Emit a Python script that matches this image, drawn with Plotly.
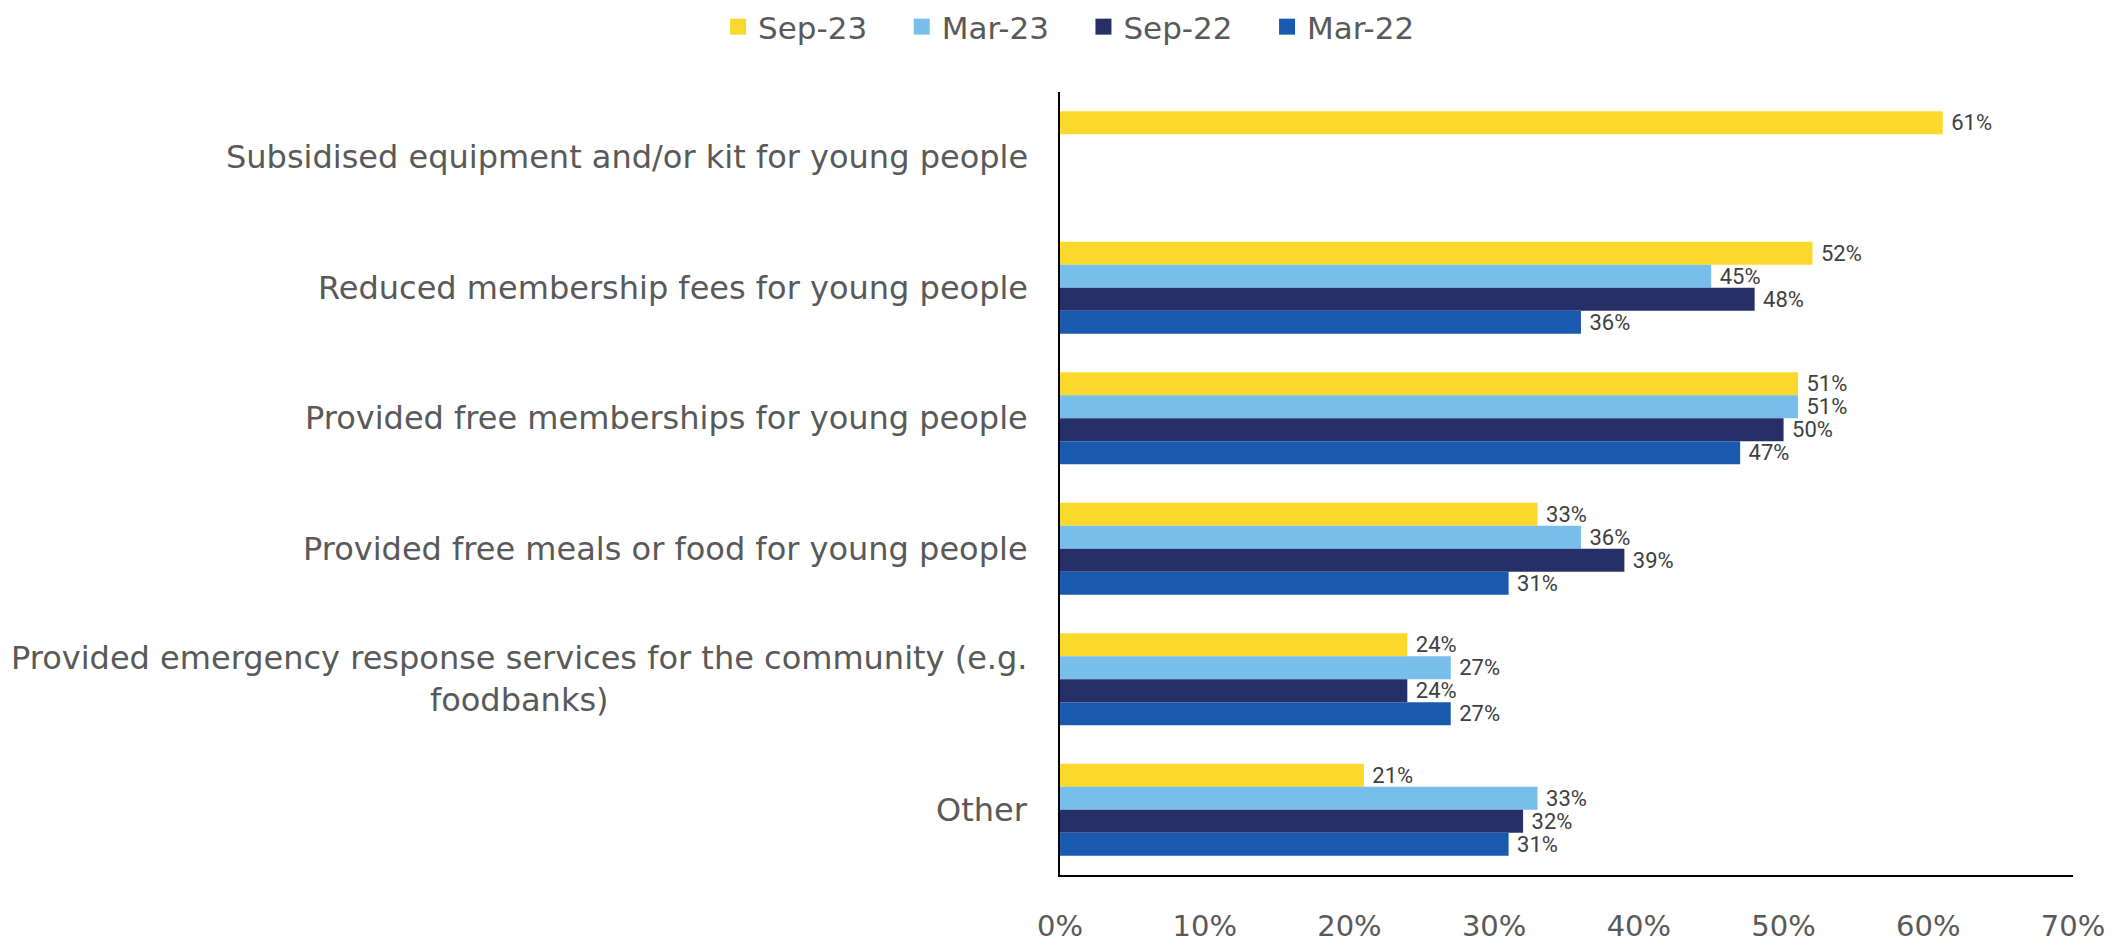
import plotly.graph_objects as go

categories = [
    "Subsidised equipment and/or kit for young people",
    "Reduced membership fees for young people",
    "Provided free memberships for young people",
    "Provided free meals or food for young people",
    "Provided emergency response services for the community (e.g.<br>foodbanks)",
    "Other",
]
series_names = ["Sep-23", "Mar-23", "Sep-22", "Mar-22"]
sep23 = [61, 52, 51, 33, 24, 21]
mar23 = [None, 45, 51, 36, 27, 33]
sep22 = [None, 48, 50, 39, 24, 32]
mar22 = [None, 36, 47, 31, 27, 31]
colors = ["#FBD92C", "#77BEEB", "#262F67", "#1A5AAE"]
x_ticks = [0, 10, 20, 30, 40, 50, 60, 70]

FONT = "DejaVu Sans"
LABEL_FONT = "Liberation Sans Narrow, Roboto, Open Sans"
values = [sep23, mar23, sep22, mar22]

fig = go.Figure()
for name, vals, col in zip(series_names, values, colors):
    fig.add_trace(go.Bar(
        y=categories, x=vals, name=name, orientation="h",
        marker=dict(color=col, line=dict(width=0)),
        text=[f" {v}%" if v is not None else "" for v in vals],
        textposition="outside", cliponaxis=False, showlegend=False,
        constraintext="none",
        textfont=dict(family=LABEL_FONT, size=22, color="#404040"),
    ))
# legend entries with larger square swatches
for i, (name, col) in enumerate(zip(series_names, colors)):
    pad = "\u00a0\u00a0\u00a0" if i < len(series_names) - 1 else ""
    fig.add_trace(go.Scatter(
        x=[None], y=[None], mode="markers", name=name + pad,
        marker=dict(symbol="square", size=20, color=col),
    ))

annotations = []
for c in categories:
    annotations.append(dict(
        x=0, xref="paper", y=c, yref="y", xanchor="right", yanchor="middle",
        xshift=-30, text=c, showarrow=False, align="center",
        font=dict(family=FONT, size=32, color="#595959"),
    ))

fig.update_layout(
    width=2127, height=943,
    paper_bgcolor="white", plot_bgcolor="white",
    margin=dict(l=1060, r=54, t=92, b=68, autoexpand=False),
    barmode="group", bargap=0.295, bargroupgap=0,
    legend=dict(orientation="h", traceorder="normal", x=0.009, xanchor="center",
                xref="paper", y=1.0, yref="container", yanchor="top",
                font=dict(family=FONT, size=31, color="#595959"),
                itemwidth=30, tracegroupgap=0),
    annotations=annotations,
    font=dict(family=FONT),
)
fig.update_xaxes(range=[0, 70], tickvals=x_ticks, ticktext=[f"{t}%" for t in x_ticks],
                 showgrid=False, zeroline=False, showline=True, linecolor="black", linewidth=2,
                 ticks="", ticklabelstandoff=24, automargin=False,
                 tickfont=dict(family=FONT, size=29, color="#595959"))
fig.update_yaxes(categoryorder="array", categoryarray=categories, autorange="reversed",
                 showticklabels=False, showgrid=False, zeroline=False, automargin=False,
                 showline=True, linecolor="black", linewidth=1.5, ticks="")

fig.write_html("out.html")
